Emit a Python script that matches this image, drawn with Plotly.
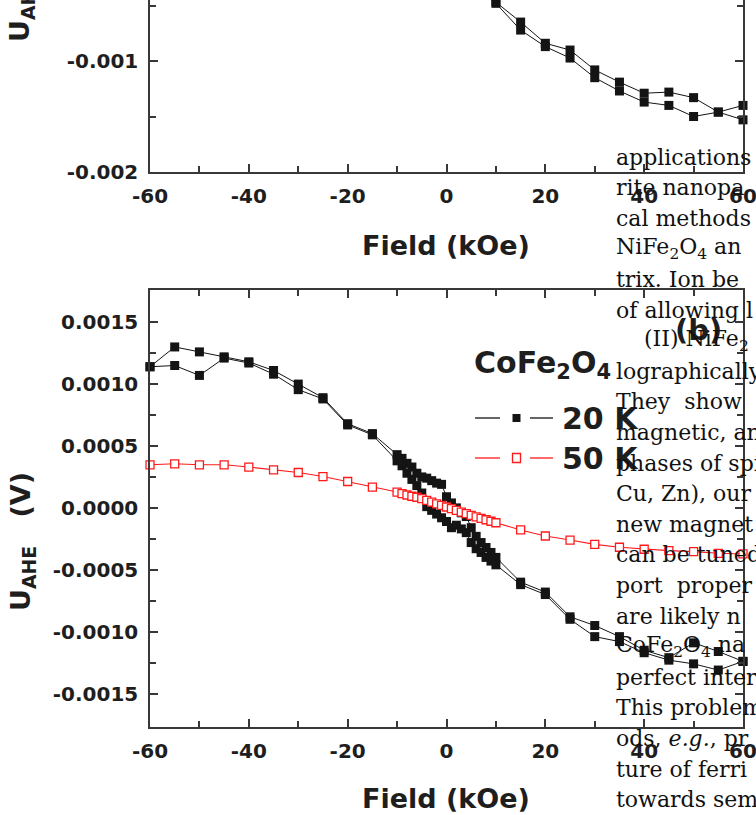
import plotly.graph_objects as go

# ---------------- data ----------------
# Panel (a) (lower part only), two field sweeps, U_AHE in volts
top_field_a = [5, 10, 15, 20, 25, 30, 35, 40, 45, 50, 55, 60]
top_uahe_a = [-0.00029, -0.000466, -0.000649, -0.00084, -0.000901, -0.00108,
              -0.00119, -0.00129, -0.00128, -0.00133, -0.00146, -0.00153]
top_field_b = [60, 55, 50, 45, 40, 35, 30, 25, 20, 15, 10, 5]
top_uahe_b = [-0.00140, -0.00146, -0.00150, -0.00140, -0.00137, -0.00127,
              -0.00115, -0.000973, -0.00087, -0.000721, -0.00048, -0.00030]

# Panel (b): CoFe2O4, 20 K, field swept down then back up
field_20k_down = [60, 55, 50, 45, 40, 35, 30, 25, 20, 15, 10, 9, 8, 7, 6, 5, 4, 3, 2, 1, 0,
                  -1, -2, -3, -4, -5, -6, -7, -8, -9, -10, -15, -20, -25, -30, -35, -40,
                  -45, -50, -55, -60]
uahe_20k_down = [-0.00124, -0.00116, -0.00109, -0.00121, -0.00115, -0.00104, -0.00095,
                 -0.00088, -0.00068, -0.00060, -0.00040, -0.00036, -0.00032, -0.00028,
                 -0.00023, -0.00016, -0.00007, -0.00004, 0.00000, 0.00004, 0.00009,
                 0.00019, 0.00020, 0.00022, 0.00024, 0.00025, 0.00028, 0.00033, 0.00036,
                 0.00040, 0.00043, 0.00060, 0.00068, 0.00089, 0.00100, 0.00111, 0.00118,
                 0.00122, 0.00126, 0.00130, 0.00114]
field_20k_up = [-60, -55, -50, -45, -40, -35, -30, -25, -20, -15, -10, -9, -8, -7, -6, -5,
                -4, -3, -2, -1, 0, 1, 2, 3, 4, 5, 6, 7, 8, 9, 10, 15, 20, 25, 30, 35, 40,
                45, 50, 55, 60]
uahe_20k_up = [0.00114, 0.00115, 0.00107, 0.00121, 0.00117, 0.00108, 0.000955, 0.00088,
               0.00067, 0.00059, 0.00038, 0.00034, 0.00028, 0.00023, 0.00018, 0.00012,
               0.00001, -0.00002, -0.00005, -0.00008, -0.00011, -0.00016, -0.00014,
               -0.00017, -0.00020, -0.00028, -0.00033, -0.00036, -0.00040, -0.00043,
               -0.00046, -0.00062, -0.00070, -0.00090, -0.00104, -0.00108, -0.00117,
               -0.00123, -0.00126, -0.00131, -0.00124]

# Panel (b): CoFe2O4, 50 K
field_50k = [-60, -55, -50, -45, -40, -35, -30, -25, -20, -15, -10, -9, -8, -7, -6, -5,
             -4, -3, -2, -1, 0, 1, 2, 3, 4, 5, 6, 7, 8, 9, 10, 15, 20, 25, 30, 35, 40,
             45, 50, 55, 60]
uahe_50k = [0.000348, 0.000356, 0.000348, 0.000348, 0.000330, 0.000307, 0.000286,
            0.000253, 0.000213, 0.000167, 0.000128, 0.000115, 0.000104, 0.000094,
            0.000086, 0.000074, 0.000060, 0.000046, 0.000033, 0.000020, 0.000007,
            -0.000006, -0.000020, -0.000034, -0.000047, -0.000060, -0.000072,
            -0.000085, -0.000096, -0.000108, -0.000120, -0.000178, -0.000227,
            -0.000260, -0.000295, -0.000318, -0.000334, -0.000345, -0.000353,
            -0.000367, -0.000372]

# ---------------- ticks ----------------
field_ticks = [-60, -40, -20, 0, 20, 40, 60]
field_ticktext = ["-60", "-40", "-20", "0", "20", "40", "60"]
field_minor = [-50, -30, -10, 10, 30, 50]
top_u_ticks = [-0.002, -0.001]
top_u_ticktext = ["-0.002", "-0.001"]
top_u_minor = [-0.0015, -0.0005]
bot_u_ticks = [-0.0015, -0.0010, -0.0005, 0.0, 0.0005, 0.0010, 0.0015]
bot_u_ticktext = ["-0.0015", "-0.0010", "-0.0005", "0.0000", "0.0005", "0.0010", "0.0015"]
bot_u_minor = [-0.00125, -0.00075, -0.00025, 0.00025, 0.00075, 0.00125]

# body text of the page running alongside the figure
page_lines = [
    "applications", "rite nanopa", "cal methods", "NiFe<sub>2</sub>O<sub>4</sub> an",
    "trix. Ion be", "of allowing l",
    "&nbsp;&nbsp;&nbsp;&nbsp;(II) NiFe<sub>2</sub>", "lographically",
    "They&nbsp; show", "magnetic, an", "phases of spi", "Cu, Zn), our", "new magnet",
    "can be tuned", "port&nbsp; proper", "are likely n",
    "CoFe<sub>2</sub>O<sub>4</sub> na",
    "perfect inter", "This problem", "ods, <i>e.g.</i>, pr", "ture of ferri",
    "towards sem",
]

W, H = 756, 815


def px(x):
    return x / W


def py(y):
    return 1 - y / H


SANS = "DejaVu Sans"
AX = "#383838"
BLACK = "#141414"
RED = "#ff1a1a"

fig = go.Figure()

# panel (a)
for fx, fy in ((top_field_a, top_uahe_a), (top_field_b, top_uahe_b)):
    fig.add_trace(go.Scatter(
        x=fx, y=fy, xaxis="x", yaxis="y", mode="lines+markers",
        line=dict(color=BLACK, width=1),
        marker=dict(symbol="square", size=9, color=BLACK),
        cliponaxis=False, showlegend=False))

# panel (b), 20 K loop
fig.add_trace(go.Scatter(
    x=field_20k_down + field_20k_up, y=uahe_20k_down + uahe_20k_up,
    xaxis="x2", yaxis="y2", mode="lines+markers",
    line=dict(color=BLACK, width=1),
    marker=dict(symbol="square", size=9, color=BLACK),
    cliponaxis=False, showlegend=False))

# panel (b), 50 K
fig.add_trace(go.Scatter(
    x=field_50k, y=uahe_50k, xaxis="x2", yaxis="y2", mode="lines+markers",
    line=dict(color=RED, width=1.1),
    marker=dict(symbol="square", size=8, color="white", line=dict(color=RED, width=1.3)),
    cliponaxis=False, showlegend=False))

tickfont = dict(family=SANS, size=20, color="#1e1e1e", weight="bold")
xdom = [px(150), px(743)]


def xaxis_cfg(anchor, mirror):
    return dict(
        domain=xdom, anchor=anchor, range=[-60, 60], automargin=False,
        tickmode="array", tickvals=field_ticks, ticktext=field_ticktext,
        ticks="inside", ticklen=8, tickwidth=1.5, tickcolor=AX,
        minor=dict(tickvals=field_minor, ticks="inside", ticklen=6, tickwidth=1.5,
                   tickcolor=AX),
        showline=True, linewidth=1.5, linecolor=AX, mirror=mirror,
        showgrid=False, zeroline=False, tickfont=tickfont, ticklabelstandoff=5,
        ticklabeloverflow="allow")


def yaxis_cfg(anchor, dom, rng, vals, text, minor):
    return dict(
        domain=dom, anchor=anchor, range=rng, automargin=False,
        tickmode="array", tickvals=vals, ticktext=text,
        ticks="inside", ticklen=8, tickwidth=1.5, tickcolor=AX,
        minor=dict(tickvals=minor, ticks="inside", ticklen=6, tickwidth=1.5,
                   tickcolor=AX),
        showline=True, linewidth=1.5, linecolor=AX, mirror="allticks",
        showgrid=False, zeroline=False, tickfont=tickfont, ticklabelstandoff=6,
        ticklabeloverflow="allow")


fig.update_layout(
    width=W, height=H, margin=dict(l=0, r=0, t=0, b=0, autoexpand=False),
    paper_bgcolor="white", plot_bgcolor="white", showlegend=False,
    xaxis=xaxis_cfg("y", False),
    yaxis=yaxis_cfg("x", [py(172), 1.0], [-0.002, -0.00045],
                    top_u_ticks, top_u_ticktext, top_u_minor),
    xaxis2=xaxis_cfg("y2", "allticks"),
    yaxis2=yaxis_cfg("x2", [py(727), py(290)], [-0.00177, 0.00176],
                     bot_u_ticks, bot_u_ticktext, bot_u_minor),
)

ann = []
title_font = dict(family=SANS, size=27, color="#1e1e1e", weight="bold")
# axis titles
for yc in (245, 798):
    ann.append(dict(x=px(446), y=py(yc), xref="paper", yref="paper", text="Field (kOe)",
                    showarrow=False, font=title_font, xanchor="center", yanchor="middle"))
for yc in (-27, 542):
    ann.append(dict(x=px(22), y=py(yc), xref="paper", yref="paper",
                    text="U<sub>AHE</sub>&nbsp;&nbsp;&nbsp;(V)", textangle=-90,
                    showarrow=False, font=title_font, xanchor="center", yanchor="middle"))

# legend block
leg_font = dict(family=SANS, size=30, color="#1e1e1e", weight="bold")
ann.append(dict(x=px(472), y=py(364), xref="paper", yref="paper",
                text="CoFe<sub>2</sub>O<sub>4</sub>", showarrow=False, font=leg_font,
                xanchor="left", yanchor="middle"))
ann.append(dict(x=px(560), y=py(418), xref="paper", yref="paper", text="20 K",
                showarrow=False, font=leg_font, xanchor="left", yanchor="middle"))
ann.append(dict(x=px(560), y=py(458), xref="paper", yref="paper", text="50 K",
                showarrow=False, font=leg_font, xanchor="left", yanchor="middle"))
ann.append(dict(x=px(698), y=py(330), xref="paper", yref="paper", text="(b)",
                showarrow=False, font=dict(family=SANS, size=29, color="#1e1e1e",
                                           weight="bold"),
                xanchor="center", yanchor="middle"))

# running page text
for k, line in enumerate(page_lines):
    ann.append(dict(x=px(614), y=py(157 + 30.6 * k), xref="paper", yref="paper",
                    text=line, showarrow=False, xanchor="left", yanchor="middle",
                    font=dict(family="DejaVu Serif", size=22, color="#111111")))

shapes = []
for yk, col in ((418, BLACK), (458, RED)):
    for x0, x1 in ((475, 500), (530, 553)):
        shapes.append(dict(type="line", xref="paper", yref="paper",
                           x0=px(x0), x1=px(x1), y0=py(yk), y1=py(yk),
                           line=dict(color=col, width=1.3)))
shapes.append(dict(type="rect", xref="paper", yref="paper",
                   x0=px(512.5), x1=px(520.5), y0=py(422), y1=py(414),
                   fillcolor=BLACK, line=dict(width=0)))
shapes.append(dict(type="rect", xref="paper", yref="paper",
                   x0=px(512.5), x1=px(520.5), y0=py(462.5), y1=py(453.5),
                   fillcolor="white", line=dict(color=RED, width=1.3)))

fig.update_layout(annotations=ann, shapes=shapes)

fig.write_html("out.html", config={"displayModeBar": False})
